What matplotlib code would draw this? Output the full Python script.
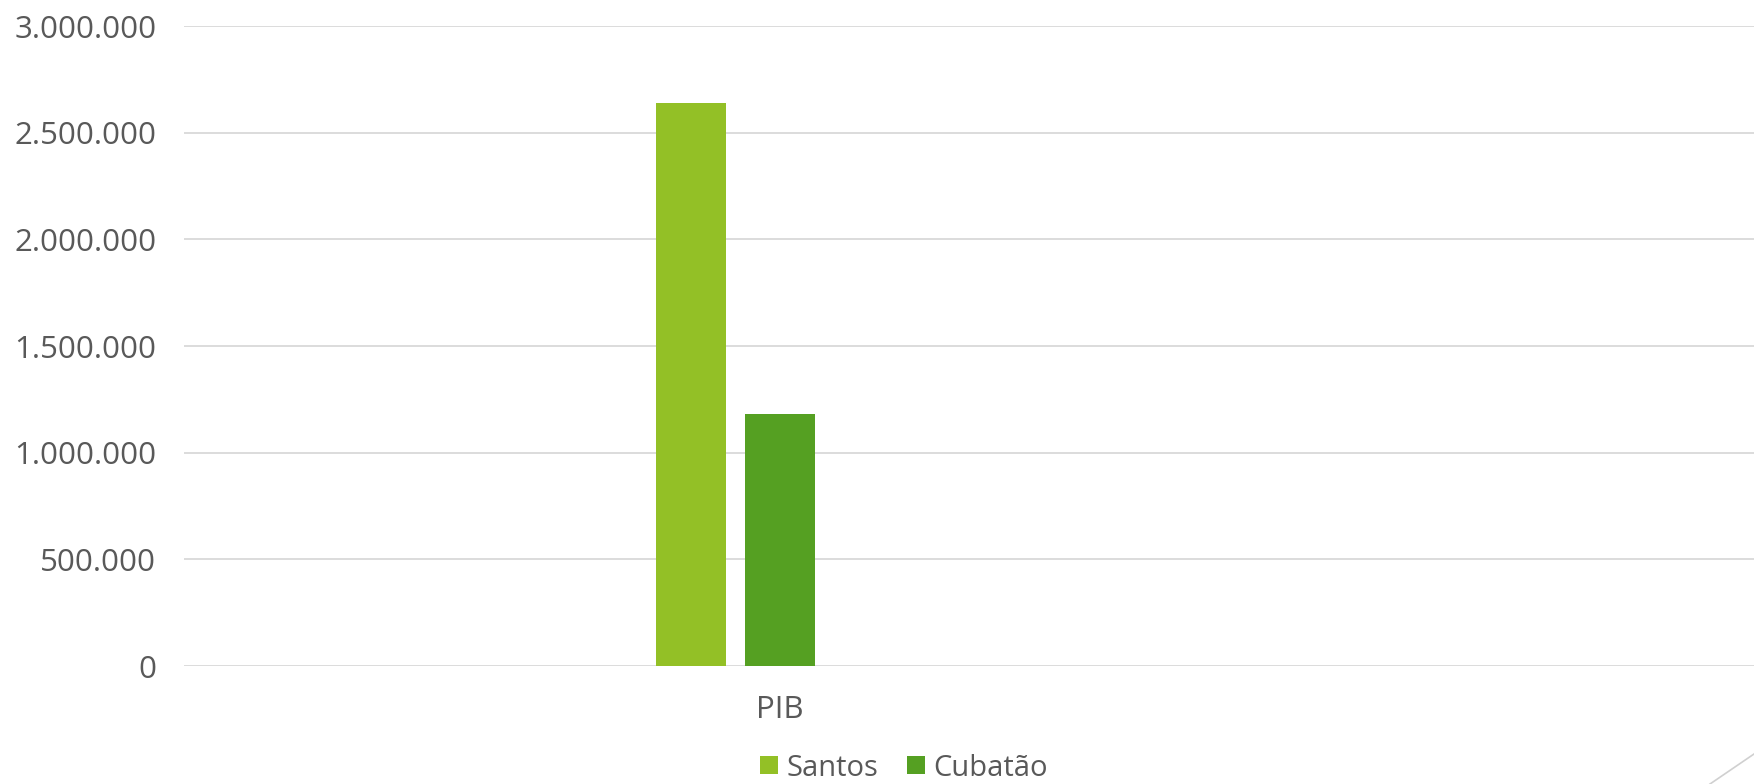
import matplotlib
matplotlib.use("Agg")
import matplotlib.pyplot as plt
from matplotlib.patches import Patch
from matplotlib.lines import Line2D
from matplotlib.ticker import FuncFormatter, MultipleLocator

# data
categories = ["PIB"]
series_names = ["Santos", "Cubatão"]
santos = [2640000]
cubatao = [1181000]
series_values = [santos, cubatao]
colors = ["#93C026", "#55A022"]

plt.rcParams['font.family'] = ['Open Sans', 'DejaVu Sans']
text_color = "#595959"
grid_color = "#D9D9D9"

W, H = 1754, 784
fig = plt.figure(figsize=(W / 100, H / 100), dpi=100)
ax = fig.add_axes([184 / W, (784 - 666) / H, 1 - 184 / W, (666 - 26) / H])

bar_w = 1.0
step = 89 / 70  # bar + gap, in bar widths
for i, (name, vals) in enumerate(zip(series_names, series_values)):
    # excel-style group: slots centred as for three series
    xs = [c + (i - 1) * step for c in range(len(categories))]
    ax.bar(xs, vals, width=bar_w, color=colors[i], label=name, zorder=3)

ax.set_xlim((184 - 780) / 70, (1754 - 780) / 70)
ax.set_ylim(0, 3000000)
ax.yaxis.set_major_locator(MultipleLocator(500000))
ax.yaxis.set_major_formatter(FuncFormatter(lambda v, p: f"{int(v):,}".replace(",", ".")))
ax.set_xticks(range(len(categories)))
ax.set_xticklabels(categories)

ax.grid(axis='y', color=grid_color, linewidth=1.3, zorder=0)
for s in ax.spines.values():
    s.set_visible(False)
ax.tick_params(axis='both', length=0, colors=text_color, labelsize=22.5)
ax.tick_params(axis='y', pad=20)
ax.tick_params(axis='x', pad=21)

handles = [Patch(facecolor=c, label=n) for c, n in zip(colors, series_names)]
fig.legend(handles=handles, loc='center', bbox_to_anchor=(904 / W, 1 - 768 / H),
           ncol=2, frameon=False, fontsize=21, labelcolor=text_color,
           handlelength=0.6, handleheight=0.6, handletextpad=0.3,
           columnspacing=1.0)

# slide corner decoration
fig.add_artist(Line2D([1710 / W, 1.0], [0.0, 30 / H], transform=fig.transFigure,
                      color="#D0D0D0", linewidth=1.2))

fig.savefig("out.png", dpi=100)
